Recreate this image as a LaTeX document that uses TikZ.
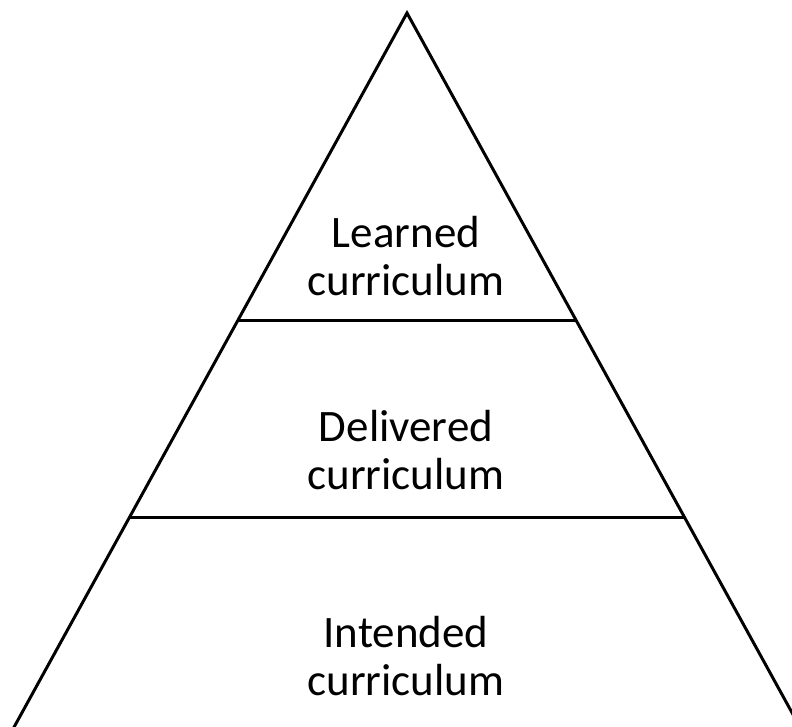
\documentclass[tikz,border=0pt]{standalone}
\usepackage{fontspec}
\setmainfont{Carlito}
\usetikzlibrary{calc}

\tikzset{
  edge/.style={line width=1.7pt, line join=miter},
  level/.style={font=\fontsize{25.6}{27.6}\selectfont, align=center, inner sep=0pt},
}

\begin{document}
\begin{tikzpicture}[x=0.02cm, y=-0.02cm]
  % Frame
  \useasboundingbox (0,0) rectangle (792,727);
  \clip (0,0) rectangle (792,727);
  % Sizes
  \pgfmathsetmacro{\upper}{0.43}
  \pgfmathsetmacro{\lower}{0.7045}

  % corners
  \coordinate (a) at (407, 13);
  \coordinate (b) at (13, 729);
  \coordinate (c) at (801, 729);

  % dividers
  \coordinate (d) at ($(a)!\upper!(b)$);
  \coordinate (e) at ($(a)!\upper!(c)$);
  \coordinate (f) at ($(a)!\lower!(b)$);
  \coordinate (g) at ($(a)!\lower!(c)$);

  % draw pyramid
  \draw[edge] (a) -- (b) -- (c) -- cycle;
  \draw[edge] (d) -- (e);
  \draw[edge] (f) -- (g);

  % labels
  \node[level] (learned) at (406, 256) {Learned\\curriculum};
  \node[level] (delivered) at (406, 450) {Delivered\\curriculum};
  \node[level] (intended) at (406, 656) {Intended\\curriculum};
\end{tikzpicture}
\end{document}
